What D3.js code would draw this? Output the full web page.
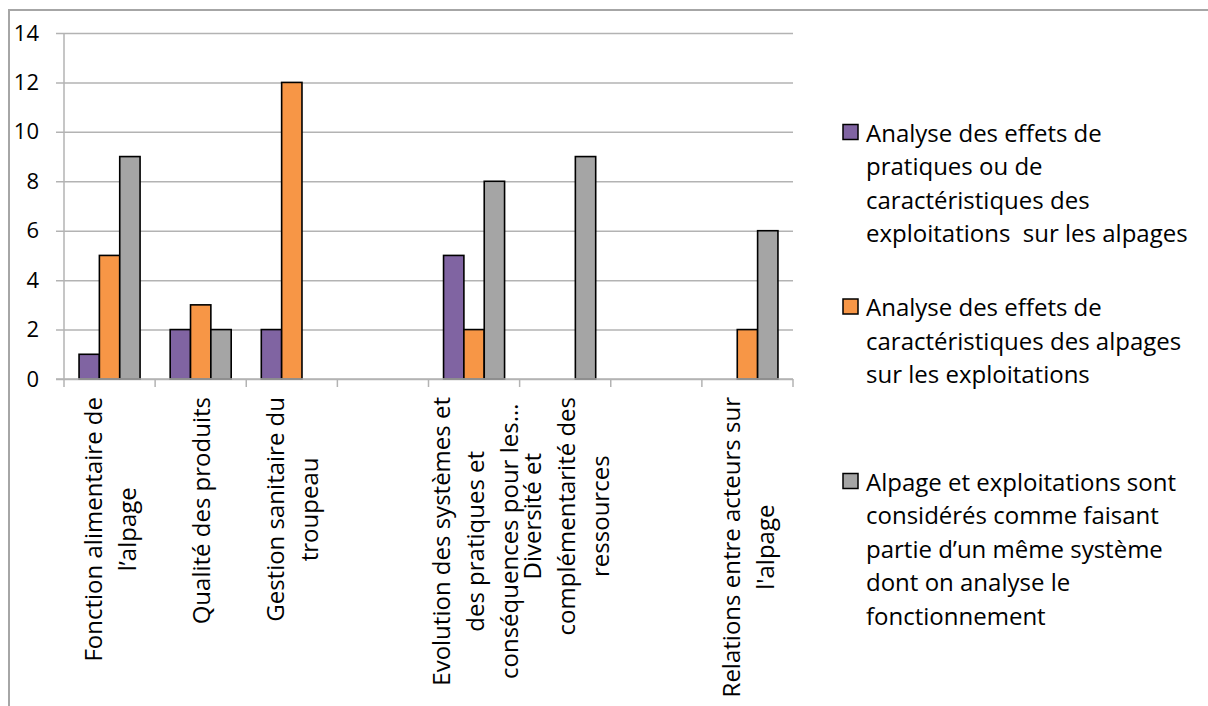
<!DOCTYPE html>
<html>
<head>
<meta charset="utf-8">
<script src="https://cdn.jsdelivr.net/npm/d3@7"></script>
<style>
  body { margin: 0; background: #fff; }
  svg { display: block; }
  text { font-family: "Open Sans", "Noto Sans", sans-serif; fill: #000; }
</style>
</head>
<body>
<div id="chart-area"></div>
<script>
// data
var categories = ["c1", "c2", "c3", "c4", "c5", "c6", "c7", "c8"];
var categoryLabels = [
    ["Fonction alimentaire de", "l\u2019alpage"],
    ["Qualité des produits"],
    ["Gestion sanitaire du", "troupeau"],
    [],
    ["Evolution des systèmes et", "des pratiques et", "conséquences pour les\u2026"],
    ["Diversité et", "complémentarité des", "ressources"],
    [],
    ["Relations entre acteurs sur", "l'alpage"]
];
var seriesNames = ["effetsPratiques", "effetsAlpages", "systeme"];
var effetsPratiques = [1, 2, 2, 0, 5, 0, 0, 0];
var effetsAlpages   = [5, 3, 12, 0, 2, 0, 0, 2];
var systeme         = [9, 2, 0, 0, 8, 9, 0, 6];
var yTicks = [0, 2, 4, 6, 8, 10, 12, 14];
var legendLabels = [
    ["Analyse des effets de", "pratiques ou de", "caractéristiques des", "exploitations  sur les alpages"],
    ["Analyse des effets de", "caractéristiques des alpages", "sur les exploitations"],
    ["Alpage et exploitations sont", "considérés comme faisant", "partie d\u2019un même système", "dont on analyse le", "fonctionnement"]
];

var seriesValues = [effetsPratiques, effetsAlpages, systeme];
var colors = ["#8064A2", "#F79646", "#A5A5A5"];

var W = 1208, H = 706;
var margin = { left: 64, right: 415, top: 33, bottom: 327 };
var width = W - margin.left - margin.right,
    height = H - margin.top - margin.bottom;

var svg = d3.select("#chart-area")
    .append("svg")
        .attr("width", W)
        .attr("height", H);

// outer frame (top and left edges visible)
svg.append("path")
    .attr("d", "M9," + H + "V10H" + W)
    .attr("fill", "none")
    .attr("stroke", "#a6a6a6")
    .attr("stroke-width", 2);

var g = svg.append("g")
    .attr("transform", "translate(" + margin.left + "," + margin.top + ")");

var x0 = d3.scaleBand()
    .domain(categories)
    .range([0, width])
    .padding(0);

var x1 = d3.scaleBand()
    .domain(seriesNames)
    .range([0, x0.bandwidth()])
    .paddingInner(0)
    .paddingOuter(0.74);

var y = d3.scaleLinear()
    .domain([0, 14])
    .range([height, 0]);

// gridlines + y labels
var yAxisCall = d3.axisLeft(y)
    .tickValues(yTicks)
    .tickSize(-width - 8)
    .tickPadding(17)
    .tickFormat(function(d){ return d; });
var yAxis = g.append("g")
    .attr("class", "y axis")
    .attr("transform", "translate(-8,0)")
    .call(yAxisCall);
yAxis.select(".domain").remove();
yAxis.selectAll("line")
    .attr("stroke", "#b3b3b3")
    .attr("stroke-width", 1.5);
yAxis.selectAll("text")
    .attr("font-size", "22px")
    .style("font-family", "'Open Sans', sans-serif")
    .attr("fill", "#000");

// vertical axis line
g.append("line")
    .attr("x1", 0).attr("x2", 0)
    .attr("y1", 0).attr("y2", height)
    .attr("stroke", "#b3b3b3")
    .attr("stroke-width", 1.5);

// bars
var groups = g.selectAll("g.cat")
    .data(categories)
    .enter().append("g")
        .attr("class", "cat")
        .attr("transform", function(d) { return "translate(" + x0(d) + ",0)"; });

groups.selectAll("rect")
    .data(function(d, i) {
        return seriesNames.map(function(s, j) {
            return { key: s, value: seriesValues[j][i], color: colors[j] };
        }).filter(function(e) { return e.value > 0; });
    })
    .enter().append("rect")
        .attr("x", function(d) { return x1(d.key); })
        .attr("y", function(d) { return y(d.value); })
        .attr("width", x1.bandwidth())
        .attr("height", function(d) { return height - y(d.value); })
        .attr("fill", function(d) { return d.color; })
        .attr("stroke", "#000")
        .attr("stroke-width", 1.6);

// x axis
var xAxis = g.append("g")
    .attr("transform", "translate(0," + height + ")");
xAxis.append("line")
    .attr("x1", -8).attr("x2", width)
    .attr("stroke", "#b3b3b3")
    .attr("stroke-width", 1.5);
xAxis.selectAll("line.tick")
    .data(d3.range(categories.length + 1))
    .enter().append("line")
        .attr("class", "tick")
        .attr("x1", function(i) { return i * x0.step(); })
        .attr("x2", function(i) { return i * x0.step(); })
        .attr("y1", 0).attr("y2", 8)
        .attr("stroke", "#b3b3b3")
        .attr("stroke-width", 1.5);

// category labels, rotated, lines centred on each other
var lineGap = 34, labelTop = 18;
categories.forEach(function(c, i) {
    var lines = categoryLabels[i];
    if (!lines.length) return;
    var cx = x0(c) + x0.bandwidth() / 2;
    var lab = xAxis.append("g");
    var texts = lines.map(function(t, k) {
        return lab.append("text")
            .attr("font-size", "24px")
            .attr("text-anchor", "middle")
            .attr("dominant-baseline", "central")
            .text(t);
    });
    var maxLen = d3.max(texts, function(t) { return t.node().getComputedTextLength(); });
    texts.forEach(function(t, k) {
        var lx = cx + (k - (lines.length - 1) / 2) * lineGap;
        t.attr("transform", "translate(" + lx + "," + (labelTop + maxLen / 2) + ") rotate(-90)");
    });
});

// legend
var legend = svg.append("g")
    .attr("transform", "translate(842,132)");

legendLabels.forEach(function(lines, i) {
    var row = legend.append("g")
        .attr("transform", "translate(0," + (i * 174.5) + ")");
    row.append("rect")
        .attr("x", 1).attr("y", -7.5)
        .attr("width", 15).attr("height", 15)
        .attr("fill", colors[i])
        .attr("stroke", "#000")
        .attr("stroke-width", 1.5);
    lines.forEach(function(t, k) {
        row.append("text")
            .attr("x", 24)
            .attr("y", k * 33.5)
            .attr("font-size", "24px")
            .attr("dominant-baseline", "central")
            .style("white-space", "pre")
            .text(t);
    });
});
</script>
</body>
</html>
